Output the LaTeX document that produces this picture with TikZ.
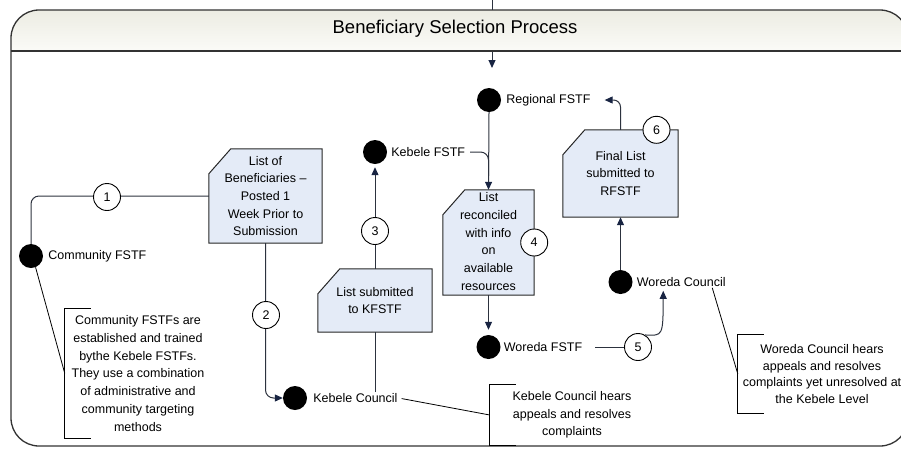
\documentclass[tikz,border=0pt]{standalone}
\usepackage{fontspec}
\setmainfont{Liberation Sans}
\usetikzlibrary{arrows.meta,positioning}
\pgfdeclarelayer{background}
\pgfsetlayers{background,main}
\definecolor{linec}{RGB}{44,50,62}
\definecolor{tipc}{RGB}{24,36,66}
\definecolor{boxfill}{RGB}{228,235,247}
\definecolor{bandtop}{RGB}{236,236,227}
\definecolor{bandbot}{RGB}{251,251,247}
\newcommand{\cutbox}[1]{%
  \begin{pgfonlayer}{background}
    \filldraw[boxline] (#1.south west) -- ([yshift=-25pt]#1.north west)
      -- ([xshift=22pt]#1.north west) -- (#1.north east) -- (#1.south east) -- cycle;
  \end{pgfonlayer}}
\newcommand{\bracket}[1]{%
  \draw[noteline] ([xshift=26pt]#1.north west) -- (#1.north west)
    -- (#1.south west) -- ([xshift=26pt]#1.south west);}
\tikzset{
  frameline/.style={draw=black!80, line width=1.3pt},
  conn/.style={draw=linec, line width=1pt},
  arr/.style={conn, -{Triangle[length=8pt,width=7pt,color=tipc]}},
  noteline/.style={draw=black, line width=0.8pt},
  dot/.style={circle, fill=black, minimum size=24pt, inner sep=0pt},
  lbl/.style={inner sep=1pt, font=\fontsize{12.5}{15}\selectfont},
  num/.style={circle, draw=black, fill=white, line width=0.9pt, minimum size=27pt,
    inner sep=0pt, font=\fontsize{12.5}{15}\selectfont},
  boxline/.style={draw=black!85, fill=boxfill, line width=1pt},
  taskbox/.style={rectangle, inner sep=0pt},
  task/.style={align=center, inner sep=0pt, font=\fontsize{12.5}{17.7}\selectfont},
  note/.style={rectangle, align=center, inner sep=0pt, font=\fontsize{12.5}{17.7}\selectfont},
  title/.style={inner sep=0pt, font=\fontsize{18.5}{22}\selectfont}
}
\begin{document}
\begin{tikzpicture}[x=1pt,y=-1pt]
\useasboundingbox (0,0) rectangle (901,448);

% swimlane frame
\begin{scope}
\clip[rounded corners=28pt] (11,10) rectangle (908,446);
\shade[top color=bandtop, bottom color=bandbot] (11,10) rectangle (908,51);
\end{scope}
\draw[frameline, rounded corners=28pt] (11,10) rectangle (908,446);
\draw[frameline] (11,51) -- (908,51);
\node[title] (title) at (455,29) {Beneficiary Selection Process};

\coordinate (entry) at (492,0);
\coordinate (entryfoot) at (492,10);
\coordinate (start) at (492,52);
\coordinate (startend) at (492,68);
\draw[conn] (entry) -- (entryfoot);
\draw[arr] (start) -- (startend);

% actors
\node[dot] (rfstf) at (489,100) {};
\node[lbl, right=4pt of rfstf] (rfstf-l) {Regional FSTF};
\node[dot] (kfstf) at (375,152) {};
\node[lbl, right=3pt of kfstf] (kfstf-l) {Kebele FSTF};
\node[dot] (cfstf) at (31,256) {};
\node[lbl, right=4pt of cfstf] (cfstf-l) {Community FSTF};
\node[dot] (kcouncil) at (295,398) {};
\node[lbl, right=5pt of kcouncil] (kcouncil-l) {Kebele Council};
\node[dot] (wfstf) at (488.5,347) {};
\node[lbl, right=2pt of wfstf] (wfstf-l) {Woreda FSTF};
\node[dot] (wcouncil) at (620.5,282) {};
\node[lbl, right=3pt of wcouncil] (wcouncil-l) {Woreda Council};

% tasks
\node[taskbox, minimum width=113pt, minimum height=94pt] (benlist) at (265.5,196) {};
\node[task] (benlist-t) at (benlist) {List of\\Beneficiaries –\\Posted 1\\Week Prior to\\Submission};
\node[taskbox, minimum width=114pt, minimum height=63pt] (kfsub) at (375,300.5) {};
\node[task] (kfsub-t) at (kfsub) {List submitted\\to KFSTF};
\node[taskbox, minimum width=91pt, minimum height=105pt] (recon) at (488.5,242.5) {};
\node[task] (recon-t) at ([yshift=1pt]recon) {List\\reconciled\\with info\\on\\available\\resources};
\node[taskbox, minimum width=115pt, minimum height=87pt] (final) at (620.5,173.5) {};
\node[task] (final-t) at (final) {Final List\\submitted to\\RFSTF};
\cutbox{benlist}
\cutbox{kfsub}
\cutbox{recon}
\cutbox{final}

% flow
\draw[conn, rounded corners=8pt] (cfstf.north) |- (benlist.west);
\draw[arr, rounded corners=8pt] (benlist.south) |- (kcouncil.west);
\draw[arr, shorten >=3pt] (kfsub.north) -- (kfstf.south);
\draw[conn] (kfsub.south |- kcouncil-l.north) -- (kfsub.south);
\draw[conn, rounded corners=8pt, shorten <=4pt, shorten >=14pt] (kfstf-l.east) -| (recon.north);
\draw[arr] (rfstf.south) -- (recon.north);
\draw[arr, shorten >=5pt] (recon.south) -- (wfstf.north);
\node[num] (n5) at (638,347) {5};
\draw[conn, shorten <=12pt] (wfstf-l.east) -- (n5.west);
\coordinate (n5tip) at ([xshift=-18pt,yshift=-3pt]wcouncil-l.south);
\draw[arr] (n5.60) .. controls (663,336) .. (n5tip);
\draw[arr] (wcouncil.north) -- (final.south);
\draw[arr, rounded corners=7pt, shorten >=13pt] (final.north) |- (rfstf-l.east);

\node[num] (n1) at (107,197) {1};
\node[num] (n2) at (266,315) {2};
\node[num] (n3) at (375,231) {3};
\node[num] (n4) at (recon.east) {4};
\node[num] (n6) at ([xshift=36pt]final.north) {6};

% notes
\node[note, minimum width=146pt, minimum height=129pt] (cnote) at (138,373.5)
  {Community FSTFs are\\established and trained\\bythe Kebele FSTFs.\\They use a combination\\of administrative and\\community targeting\\methods};
\bracket{cnote}
\draw[noteline] (cfstf.-68) -- (cnote.west);
\node[note, minimum width=164pt, minimum height=60pt] (knote) at (572,415)
  {Kebele Council hears\\appeals and resolves\\complaints};
\bracket{knote}
\draw[noteline, shorten <=3pt] (kcouncil-l.east) -- (knote.west);
\node[note, minimum width=168pt, minimum height=78pt, font=\fontsize{12.5}{16.5}\selectfont] (wnote) at (822,374)
  {Woreda Council hears\\appeals and resolves\\complaints yet unresolved at\\the Kebele Level};
\bracket{wnote}
\draw[noteline] ([xshift=31pt]wcouncil-l.south) -- (wnote.west);
\end{tikzpicture}
\end{document}
